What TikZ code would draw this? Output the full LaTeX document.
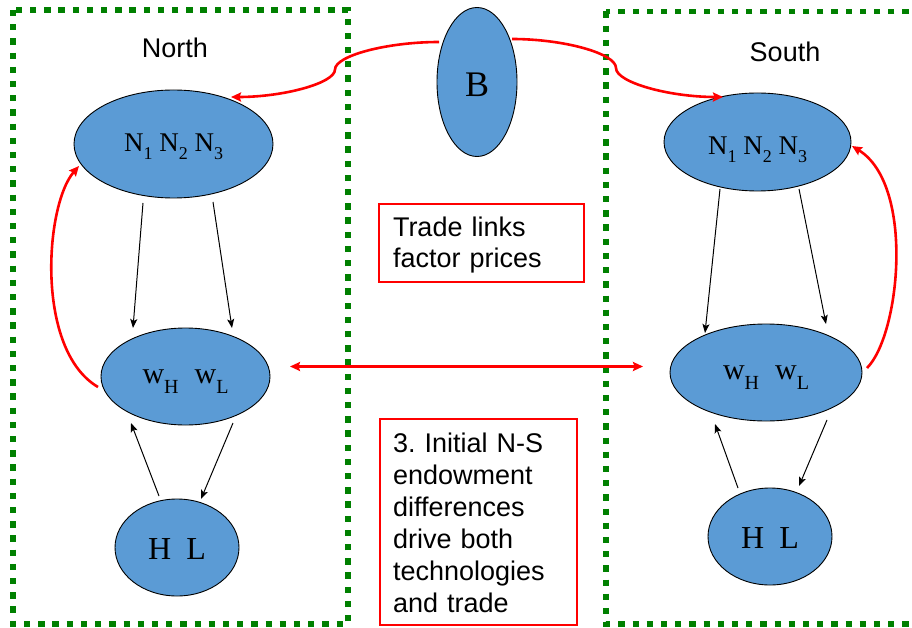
\documentclass[tikz,border=0pt]{standalone}
\usepackage{fontspec}
\setmainfont{Liberation Serif}
\setsansfont{Liberation Sans}
\usetikzlibrary{arrows.meta,calc,shapes.geometric}
\newcommand{\lsub}[3]{\raisebox{#1}{\fontsize{#2}{#2}\selectfont #3}}
\definecolor{nodeblue}{HTML}{5B9BD5}
\definecolor{dotgreen}{HTML}{008000}
\frenchspacing
\begin{document}
\begin{tikzpicture}[x=1pt,y=-1pt,
  blob/.style={ellipse,draw=black,line width=0.9pt,fill=nodeblue,inner sep=0pt,text depth=0pt},
  region/.style={draw=dotgreen,line width=5.8pt,dash pattern=on 6.3pt off 7.9pt},
  notebox/.style={draw=red,line width=2.6pt,font=\sffamily\fontsize{27}{32}\selectfont,align=left,inner sep=0pt},
  caption/.style={font=\sffamily\fontsize{27}{27}\selectfont,inner sep=0pt,anchor=base},
  arr/.style={draw=black,line width=1pt,-{Stealth[length=9pt,width=7pt,inset=2pt]}},
  rarr/.style={draw=red,line width=2.6pt,-{Stealth[length=10pt,width=9pt,inset=1.5pt]}},
  rdarr/.style={draw=red,line width=2.6pt,{Stealth[length=10pt,width=9pt,inset=1.5pt]}-{Stealth[length=10pt,width=9pt,inset=1.5pt]}},
]
\useasboundingbox (0,0) rectangle (912,628);
\clip (0,0) rectangle (912,628);

% regions
\draw[region] (13.3,10) rectangle (348,624);
\draw[region] (606,11.5) rectangle (940,624);

% labels
\node[caption] (north) at (175,58) {North};
\node[caption] (south) at (785,62) {South};

% ellipses
\node[blob,minimum width=80pt,minimum height=149pt,font=\fontsize{36}{36}\selectfont,text height=29pt] (B) at (477,82) {B};
\node[blob,minimum width=199pt,minimum height=108pt,font=\fontsize{27}{27}\selectfont,text height=16pt] (nN) at (173.5,144)
  {N\lsub{-7.5pt}{18}{1} N\lsub{-7.5pt}{18}{2} N\lsub{-7.5pt}{18}{3}};
\node[blob,minimum width=187pt,minimum height=98pt,font=\fontsize{27}{27}\selectfont,text height=26pt] (nS) at (757.5,142)
  {N\lsub{-7.5pt}{18}{1} N\lsub{-7.5pt}{18}{2} N\lsub{-7.5pt}{18}{3}};
\node[blob,minimum width=169pt,minimum height=97pt,font=\fontsize{30}{30}\selectfont,text height=13.6pt] (wN) at (185.5,376.5)
  {w\lsub{-10pt}{20}{H}\hspace{16pt}w\lsub{-10pt}{20}{L}};
\node[blob,minimum width=192pt,minimum height=97pt,font=\fontsize{30}{30}\selectfont,text height=14pt] (wS) at (766,372.5)
  {w\lsub{-10pt}{20}{H}\hspace{16pt}w\lsub{-10pt}{20}{L}};
\node[blob,minimum width=124pt,minimum height=97pt,font=\fontsize{32}{32}\selectfont,text height=23.6pt] (hN) at (177,547.5)
  {H\hspace{15pt}L};
\node[blob,minimum width=124pt,minimum height=97pt,font=\fontsize{32}{32}\selectfont,text height=23.6pt] (hS) at (770,536.5)
  {H\hspace{15pt}L};

% notes
\node[notebox,font=\sffamily\fontsize{27}{31}\selectfont,minimum width=205pt,minimum height=78pt,text width=177pt,text depth=32pt] (trade) at (481.5,243)
  {Trade links\\factor prices};
\node[notebox,minimum width=197pt,minimum height=206pt,text width=171pt,text depth=157.6pt] (init) at (478.5,522)
  {3. Initial N-S\\endowment\\differences\\drive both\\technologies\\and trade};

% black arrows north
\draw[arr] ($(nN)+(-30.5,59)$) -- ($(wN)+(-52.5,-48.5)$);
\draw[arr] ($(nN)+(39.5,58)$) -- ($(wN)+(46.5,-48.5)$);
\draw[arr] ($(hN)+(-18,-51.5)$) -- ($(wN)+(-54.5,46.5)$);
\draw[arr] ($(wN)+(47.5,46.5)$) -- ($(hN)+(24,-48.5)$);
% black arrows south
\draw[arr] ($(nS)+(-37.5,47)$) -- ($(wS)+(-61,-39.5)$);
\draw[arr] ($(nS)+(41.5,47)$) -- ($(wS)+(60,-48.5)$);
\draw[arr] ($(hS)+(-32,-48.5)$) -- ($(wS)+(-51,51.5)$);
\draw[arr] ($(wS)+(61,47.5)$) -- ($(hS)+(29,-50.5)$);

% red arrows
\coordinate (kN) at (335,69.5);
\coordinate (kS) at (616,68);
\draw[rarr] ($(B)+(-38,-40)$) .. controls (387,42) and (335,55.75) .. (kN)
  .. controls (335,83.25) and (283,97) .. ($(nN)+(57.5,-47)$);
\draw[rarr] ($(B)+(35,-43)$) .. controls (564,39) and (616,53.5) .. (kS)
  .. controls (616,82.5) and (669.5,97) .. ($(nS)+(-34.5,-45)$);
\draw[rarr] ($(wN)+(-87.5,10.5)$) .. controls (35,350) and (45,205) .. ($(nN)+(-94.5,22)$);
\draw[rarr] ($(wS)+(101,-4.5)$) .. controls (900,335) and (915,185) .. ($(nS)+(94.5,4)$);
\draw[rdarr] ($(wN)+(104.5,-10)$) -- ($(wS)+(-123,-6)$);
\end{tikzpicture}
\end{document}
